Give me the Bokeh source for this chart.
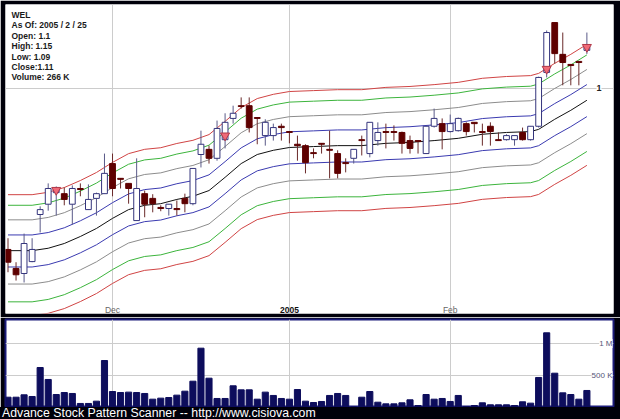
from bokeh.plotting import figure
from bokeh.layouts import column
from bokeh.models import Range1d, FixedTicker, Label, ColumnDataSource, Div
from bokeh.embed import file_html
from bokeh.resources import INLINE

# ---------------- data ----------------
symbol = "WEL"
info_lines = ["WEL", "As Of: 2005 / 2 / 25", "Open: 1.1", "High: 1.15",
              "Low: 1.09", "Close:1.11", "Volume: 266 K"]

opens = [0.669, 0.638, 0.630, 0.649, 0.730, 0.749, 0.771, 0.769, 0.749, 0.779,
         0.739, 0.760, 0.769, 0.829, 0.799, 0.789, 0.719, 0.769, 0.760, 0.743,
         0.741, 0.741, 0.760, 0.750, 0.848, 0.859, 0.840, 0.880, 0.928, 0.958,
         0.958, 0.930, 0.889, 0.889, 0.910, 0.898, 0.870, 0.867, 0.852, 0.872,
         0.859, 0.850, 0.831, 0.840, 0.880, 0.850, 0.878, 0.898, 0.898, 0.896,
         0.878, 0.878, 0.850, 0.910, 0.916, 0.898, 0.900, 0.916, 0.919, 0.898,
         0.910, 0.880, 0.880, 0.880, 0.896, 0.880, 0.910, 1.041, 1.179, 1.089,
         1.062, 1.070, 1.100]
highs = [0.688, 0.648, 0.696, 0.688, 0.745, 0.789, 0.783, 0.781, 0.785, 0.789,
         0.787, 0.771, 0.850, 0.850, 0.799, 0.789, 0.840, 0.775, 0.768, 0.747,
         0.749, 0.756, 0.769, 0.819, 0.900, 0.867, 0.923, 0.940, 0.958, 0.978,
         0.978, 0.930, 0.926, 0.916, 0.916, 0.898, 0.889, 0.870, 0.861, 0.872,
         0.900, 0.857, 0.840, 0.859, 0.889, 0.919, 0.919, 0.916, 0.912, 0.898,
         0.889, 0.878, 0.910, 0.951, 0.928, 0.937, 0.930, 0.919, 0.919, 0.916,
         0.919, 0.896, 0.892, 0.889, 0.907, 0.910, 1.030, 1.156, 1.179, 1.150,
         1.062, 1.070, 1.150]
lows = [0.632, 0.619, 0.616, 0.648, 0.698, 0.737, 0.728, 0.747, 0.712, 0.764,
        0.739, 0.728, 0.769, 0.764, 0.779, 0.750, 0.719, 0.725, 0.734, 0.736,
        0.728, 0.728, 0.734, 0.747, 0.821, 0.829, 0.835, 0.861, 0.916, 0.951,
        0.896, 0.870, 0.867, 0.878, 0.878, 0.872, 0.835, 0.809, 0.840, 0.850,
        0.799, 0.799, 0.811, 0.829, 0.846, 0.842, 0.867, 0.861, 0.878, 0.850,
        0.850, 0.850, 0.850, 0.907, 0.859, 0.896, 0.898, 0.889, 0.896, 0.867,
        0.867, 0.878, 0.878, 0.867, 0.878, 0.878, 0.907, 1.028, 1.064, 1.008,
        1.008, 1.008, 1.090]
closes = [0.648, 0.628, 0.679, 0.669, 0.739, 0.779, 0.777, 0.758, 0.779, 0.777,
          0.758, 0.769, 0.809, 0.779, 0.797, 0.779, 0.779, 0.749, 0.750, 0.741,
          0.749, 0.739, 0.750, 0.819, 0.870, 0.840, 0.905, 0.919, 0.940, 0.956,
          0.907, 0.928, 0.919, 0.907, 0.907, 0.896, 0.867, 0.831, 0.850, 0.870,
          0.857, 0.809, 0.829, 0.859, 0.878, 0.919, 0.896, 0.896, 0.896, 0.872,
          0.861, 0.876, 0.910, 0.928, 0.898, 0.916, 0.928, 0.898, 0.916, 0.896,
          0.898, 0.878, 0.889, 0.889, 0.880, 0.910, 1.028, 1.150, 1.091, 1.067,
          1.059, 1.067, 1.110]
volumes_k = [161, 161, 198, 172, 625, 438, 203, 234, 219, 63,
             63, 99, 734, 250, 234, 240, 234, 219, 130, 146,
             156, 193, 255, 411, 927, 458, 141, 141, 339, 276,
             276, 130, 240, 188, 141, 130, 281, 99, 78, 94,
             188, 219, 188, 8, 161, 250, 83, 57, 57, 73,
             120, 31, 203, 130, 141, 94, 188, 16, 31, 73,
             42, 42, 42, 31, 89, 68, 469, 1167, 536, 229,
             203, 130, 266]

# centre line of the envelope, read at some bars
ma_idx = [0, 3, 5, 7, 9, 11, 13, 15, 17, 19, 21, 23, 25, 27, 29, 31, 33, 35,
          38, 41, 44, 47, 50, 53, 56, 59, 62, 65, 66, 68, 70, 72]
ma_val = [0.667, 0.667, 0.671, 0.679, 0.691, 0.705, 0.723, 0.739, 0.747, 0.750,
          0.758, 0.764, 0.775, 0.801, 0.829, 0.848, 0.857, 0.863, 0.865, 0.867,
          0.867, 0.872, 0.874, 0.878, 0.883, 0.892, 0.896, 0.898, 0.903, 0.926,
          0.947, 0.971]
band_pct = [0.04, 0.08, 0.12, 0.15]
band_colors = ["#3a3ab0", "#8c8c8c", "#3cb43c", "#d04444"]

signal_idx = [6, 27, 67, 72]
signal_price = [0.776, 0.889, 1.050, 1.109]

month_idx = [13, 35, 55]
month_labels = ["Dec", "2005", "Feb"]
price_ticks = [1.0]
price_tick_labels = ["1"]
vol_ticks = [500, 1000]
vol_tick_labels = ["500 K", "1 M"]
footer = "Advance Stock Pattern Scanner -- http://www.cisiova.com"

# ---------------- price panel ----------------
n = len(opens)
idx = list(range(n))
inc = [c >= o for o, c in zip(opens, closes)]
src = ColumnDataSource(dict(
    x=idx, open=opens, high=highs, low=lows, close=closes,
    top=[max(o, c) for o, c in zip(opens, closes)],
    bottom=[min(o, c) for o, c in zip(opens, closes)],
    fill=["white" if u else "#5e0000" for u in inc],
    line=["#34347c" if u else "#5e0000" for u in inc],
    wick=["#5a5a88" if u else "#6a2a2a" for u in inc],
))

BG = "#00000a"
p = figure(width=620, height=317, x_range=Range1d(-0.311, 75.31),
           y_range=Range1d(0.5701, 1.2334), y_axis_type="log",
           x_axis_location=None, y_axis_location=None,
           toolbar_location=None, output_backend="svg",
           min_border_left=5, min_border_right=7, min_border_top=4, min_border_bottom=4,
           background_fill_color="white", border_fill_color=BG,
           outline_line_color=None)
p.xgrid.ticker = FixedTicker(ticks=month_idx)
p.ygrid.ticker = FixedTicker(ticks=price_ticks)
p.grid.grid_line_color = "#cccccc"
p.grid.grid_line_width = 1

for pct, col in zip(band_pct, band_colors):
    p.line(ma_idx, [v * (1 + pct) for v in ma_val], line_color=col, line_width=1)
    p.line(ma_idx, [v * (1 - pct) for v in ma_val], line_color=col, line_width=1)
p.line(ma_idx, ma_val, line_color="#111111", line_width=1)

p.segment(x0="x", y0="high", x1="x", y1="low", source=src, line_color="wick", line_width=1)
p.vbar(x="x", width=0.72, top="top", bottom="bottom", source=src,
       fill_color="fill", line_color="line", line_width=1)
p.scatter(signal_idx, signal_price, marker="inverted_triangle", size=9,
          fill_color="#f06a78", line_color="#b03848", line_width=1)

for i, t in enumerate(info_lines):
    p.add_layout(Label(x=6, y=298.5 - 10.4 * i, x_units="screen", y_units="screen",
                       text=t, text_font="Liberation Sans", text_font_style="bold",
                       text_font_size="8.5px", text_color="#1a1a1a",
                       text_baseline="middle", text_align="left"))

for mi, ml in zip(month_idx, month_labels):
    bold = ml.isdigit()
    p.add_layout(Label(x=mi, y=4, x_units="data", y_units="screen", text=ml,
                       text_font="Liberation Sans",
                       text_font_style="bold" if bold else "normal",
                       text_font_size="8.5px",
                       text_color="#111111" if bold else "#666666",
                       text_align="center", text_baseline="middle"))

for pt, pl in zip(price_ticks, price_tick_labels):
    p.add_layout(Label(x=591, y=pt, x_units="screen", y_units="data", text=pl,
                       text_font="Liberation Sans", text_font_style="bold",
                       text_font_size="9px", text_color="#222222",
                       text_align="left", text_baseline="middle",
                       background_fill_color="white"))

# ---------------- volume panel ----------------
pv = figure(width=620, height=90, x_range=p.x_range, y_range=Range1d(0, 1375),
            x_axis_location=None, y_axis_location=None,
            toolbar_location=None, output_backend="svg",
            min_border_left=5, min_border_right=7, min_border_top=2, min_border_bottom=0,
            background_fill_color="white", border_fill_color=BG,
            outline_line_color="#1c1c7a", outline_line_width=2)
pv.xgrid.ticker = FixedTicker(ticks=month_idx)
pv.ygrid.ticker = FixedTicker(ticks=vol_ticks)
pv.grid.grid_line_color = "#cccccc"
pv.vbar(x=idx, width=0.76, top=volumes_k, bottom=0,
        fill_color="#0d0d5c", line_color="#0d0d5c")

for vt, vl in zip(vol_ticks, vol_tick_labels):
    pv.add_layout(Label(x=607, y=vt, x_units="screen", y_units="data", text=vl,
                        text_font="Liberation Sans", text_font_size="8px",
                        text_color="#555577", text_align="right",
                        text_baseline="middle", background_fill_color="white"))

foot = Div(text=footer, width=620, height=12, margin=(0, 0, 0, 0),
           styles={"color": "white", "background-color": BG,
                   "font-family": "'Liberation Sans', Arial, sans-serif",
                   "font-size": "12.3px", "line-height": "12px",
                   "padding-left": "2px", "white-space": "nowrap",
                   "overflow": "hidden", "box-sizing": "border-box"})

layout = column(p, pv, foot, spacing=0)

html = file_html(layout, INLINE, title=symbol)
html = html.replace("<body>", '<body style="margin:0;background-color:%s;overflow:hidden;">' % BG, 1)
open("out.html", "w").write(html)
